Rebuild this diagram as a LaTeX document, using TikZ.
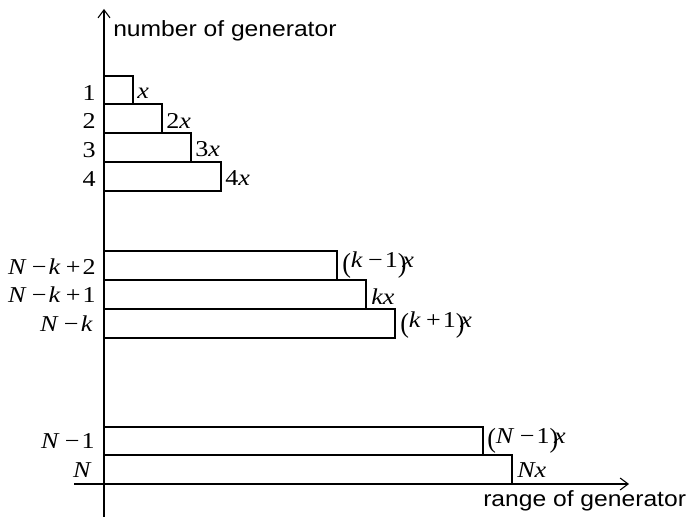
\documentclass[tikz,border=0pt]{standalone}
\usepackage{fontspec}
\setmainfont{Liberation Serif}
\newfontfamily\axisfont{Liberation Sans}
\usetikzlibrary{arrows.meta}
\newcommand{\mv}[1]{\textit{#1}}
\newcommand{\mmin}{\kern0.2em−\kern0.08em}
\newcommand{\mplus}{\kern0.2em+\kern0.08em}
\newcommand{\lpar}{\raisebox{-0.2em}{\scalebox{1}[1.22]{(}}}
\newcommand{\rpar}{\raisebox{-0.2em}{\scalebox{1}[1.22]{)}}\kern-0.16em}
\newcommand{\sx}[1]{\scalebox{1.15}[1]{#1}}
\newcommand{\sy}[1]{\scalebox{1.12}[1]{#1}}
\begin{document}
\begin{tikzpicture}[x=0.75pt,y=-0.75pt,
  bar/.style={draw, line width=0.8pt},
  axis/.style={line width=0.8pt},
  lab/.style={inner sep=0pt, font=\fontsize{17}{20}\selectfont},
  axlab/.style={inner sep=0pt, font=\axisfont\fontsize{16.5}{19}\selectfont}]
\useasboundingbox (0,0) rectangle (687,517);
% axes
\coordinate (yb) at (104,517);
\coordinate (yt) at (104,9);
\coordinate (xl) at (74,484);
\coordinate (xr) at (629,484);
\draw[axis,-{Straight Barb[length=6pt,width=9pt]}] (yb) -- (yt);
\draw[axis,-{Straight Barb[length=6pt,width=9pt]}] (xl) -- (xr);
\node[axlab, anchor=base west] (ylab) at (113,37) {\sy{number of generator}};
\node[axlab, anchor=base west] (xlab) at (483,507) {\sy{range of generator}};
% bars
\draw[bar] (104,76) coordinate (b1) rectangle (133,104);
\draw[bar] (104,104) coordinate (b2) rectangle (162,133);
\draw[bar] (104,133) coordinate (b3) rectangle (191,162);
\draw[bar] (104,162) coordinate (b4) rectangle (221,191);
\draw[bar] (104,251) coordinate (b5) rectangle (337,280);
\draw[bar] (104,280) coordinate (b6) rectangle (366,309);
\draw[bar] (104,309) coordinate (b7) rectangle (395,338);
\draw[bar] (104,427) coordinate (b8) rectangle (483,455);
\draw[bar] (104,455) coordinate (b9) rectangle (512,484);
% left labels
\node[lab, anchor=base east] (l1) at (96,101) {\sx{1}};
\node[lab, anchor=base east] (l2) at (96,129) {\sx{2}};
\node[lab, anchor=base east] (l3) at (96,158) {\sx{3}};
\node[lab, anchor=base east] (l4) at (96,187) {\sx{4}};
\node[lab, anchor=base east] (l5) at (96,275) {\sx{\mv{N}\mmin\mv{k}\mplus2}};
\node[lab, anchor=base east] (l6) at (96,303) {\sx{\mv{N}\mmin\mv{k}\mplus1}};
\node[lab, anchor=base east] (l7) at (93,332) {\sx{\mv{N}\mmin\mv{k}}};
\node[lab, anchor=base east] (l8) at (95,449) {\sx{\mv{N}\mmin1}};
\node[lab, anchor=base east] (l9) at (92,478) {\sx{\mv{N}}};
% right labels
\node[lab, anchor=base west] (r1) at (137,99) {\sx{\mv{x}}};
\node[lab, anchor=base west] (r2) at (166,129) {\sx{2\mv{x}}};
\node[lab, anchor=base west] (r3) at (195,157) {\sx{3\mv{x}}};
\node[lab, anchor=base west] (r4) at (225,186) {\sx{4\mv{x}}};
\node[lab, anchor=base west] (r5) at (342,268) {\sx{\lpar\mv{k}\mmin1\rpar\mv{x}}};
\node[lab, anchor=base west] (r6) at (371,305) {\sx{\mv{kx}}};
\node[lab, anchor=base west] (r7) at (400,328) {\sx{\lpar\mv{k}\mplus1\rpar\mv{x}}};
\node[lab, anchor=base west] (r8) at (487,443) {\sx{\lpar\mv{N}\mmin1\rpar\mv{x}}};
\node[lab, anchor=base west] (r9) at (517,477) {\sx{\mv{Nx}}};
\end{tikzpicture}
\end{document}
